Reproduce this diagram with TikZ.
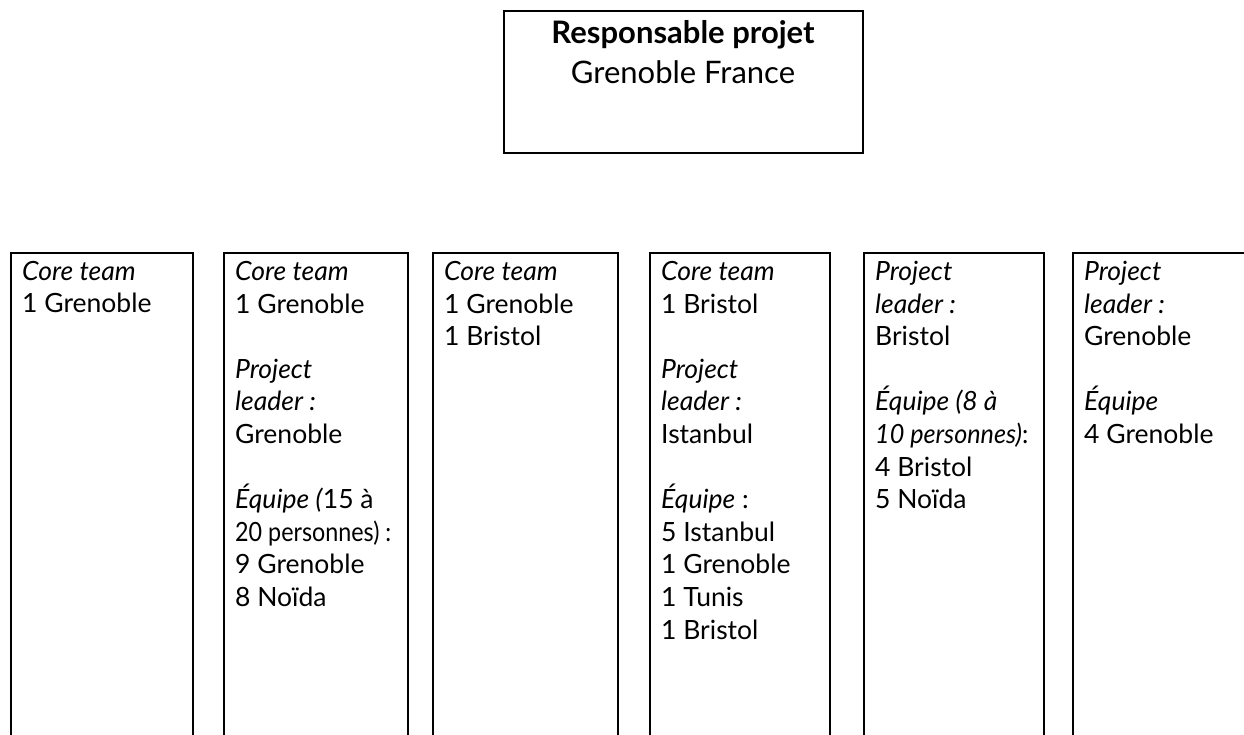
\documentclass[tikz,border=0pt]{standalone}
\usepackage{graphicx}
\usepackage{fontspec}
\setmainfont{Lato}
\begin{document}
\begin{tikzpicture}[x=1pt,y=-1pt,
  colbox/.style={draw, line width=2pt, rectangle, anchor=north west, minimum height=520pt, inner sep=0pt},
  coltext/.style={anchor=north west, align=left, inner sep=0pt, font=\fontsize{26.5}{32.6}\selectfont},
  topbox/.style={draw, line width=2pt, rectangle, anchor=north west, minimum width=359pt, minimum height=142pt, inner sep=0pt},
  toptext/.style={anchor=north, align=center, inner sep=0pt, font=\fontsize{31}{40}\selectfont}]
\useasboundingbox (0,0) rectangle (1244,735);
\clip (0,0) rectangle (1244,735);
\fill[white] (0,0) rectangle (1244,735);

\node[topbox] (top) at (503,10) {};
\node[toptext] (toptxt) at (683,20) {\textbf{Responsable projet}\\Grenoble France};

\node[colbox, minimum width=182pt] (c1) at (10,252) {};
\node[colbox, minimum width=184pt] (c2) at (223,252) {};
\node[colbox, minimum width=185pt] (c3) at (432,252) {};
\node[colbox, minimum width=180pt] (c4) at (649,252) {};
\node[colbox, minimum width=180pt] (c5) at (863,252) {};
\node[colbox, minimum width=182pt] (c6) at (1072,252) {};

\node[coltext] (t1) at (22,261) {\textit{Core team}\\1 Grenoble};
\node[coltext] (t2) at (235,261) {\textit{Core team}\\1 Grenoble\\[32.6pt]\textit{Project}\\\textit{leader :}\\Grenoble\\[32.6pt]\textit{Équipe (}15 à\\\scalebox{0.88}[1]{20 personnes) :}\\9 Grenoble\\8 Noïda};
\node[coltext] (t3) at (444,261) {\textit{Core team}\\1 Grenoble\\1 Bristol};
\node[coltext] (t4) at (661,261) {\textit{Core team}\\1 Bristol\\[32.6pt]\textit{Project}\\\textit{leader :}\\Istanbul\\[32.6pt]\textit{Équipe} :\\5 Istanbul\\1 Grenoble\\1 Tunis\\1 Bristol};
\node[coltext] (t5) at (875,261) {\textit{Project}\\\textit{leader :}\\Bristol\\[32.6pt]\textit{Équipe (8 à}\\\scalebox{0.95}[1]{\textit{10 personnes)}:}\\4 Bristol\\5 Noïda};
\node[coltext] (t6) at (1084,261) {\textit{Project}\\\textit{leader :}\\Grenoble\\[32.6pt]\textit{Équipe}\\4 Grenoble};
\end{tikzpicture}
\end{document}
